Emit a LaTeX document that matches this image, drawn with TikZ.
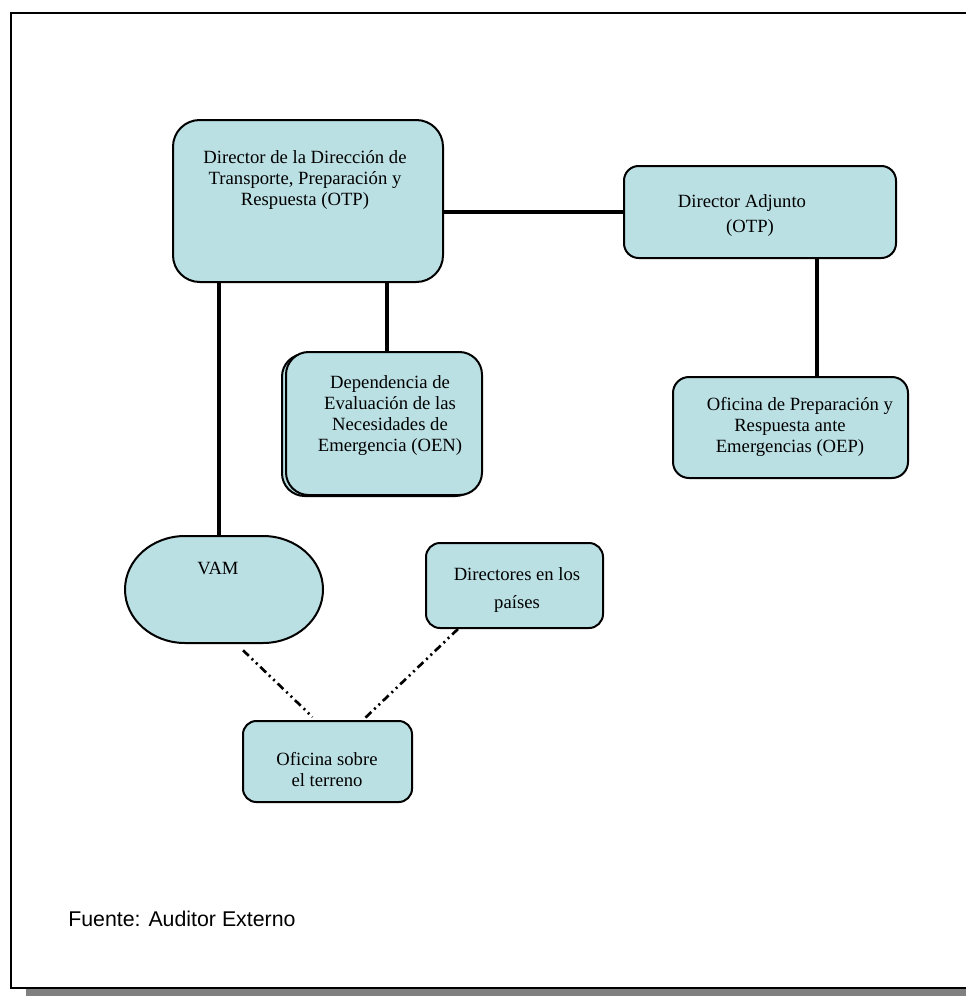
\documentclass[tikz,border=0pt]{standalone}
\usepackage{fontspec}
\setmainfont{Liberation Serif}
\newfontfamily\arialfont{Liberation Sans}
\usetikzlibrary{fit,calc}
\definecolor{boxfill}{RGB}{187,224,228}
\definecolor{shadowgray}{RGB}{128,128,128}
\begin{document}
\begin{tikzpicture}[x=0.75pt,y=-0.75pt,
  box/.style={draw=black, line width=1.5pt, fill=boxfill, inner sep=0pt},
  txt/.style={align=center, inner sep=0pt, font=\fontsize{14pt}{15.75pt}\selectfont},
  conn/.style={line width=3pt, black},
  dashconn/.style={line width=2pt, dash pattern=on 6pt off 3pt on 1.5pt off 3pt on 1.5pt off 3pt}]
\useasboundingbox (0,0) rectangle (966,996);
% frame and shadow
\fill[shadowgray] (26,989) rectangle (972,1000);
\draw[line width=1.5pt] (11,13) rectangle (967,988);

% boxes
\node[box, rounded corners=20pt, fit={(173,120)(443,282)}] (dir) {};
\node[box, rounded corners=11pt, fit={(624,166)(896,258)}] (adj) {};
\draw[box, rounded corners=17pt] (282,354) rectangle (478,496);
\node[box, rounded corners=17pt, fit={(286,352)(482,495)}] (dep) {};
\node[box, rounded corners=12pt, fit={(673,377)(908,478)}] (oep) {};
\node[inner sep=0pt, fit={(125,536)(323,643)}] (vam) {};
\draw[box] (185,536) -- (263,536)
  arc[start angle=-90, end angle=90, x radius=60, y radius=53.5]
  -- (185,643)
  arc[start angle=90, end angle=270, x radius=60, y radius=53.5] -- cycle;
\node[box, rounded corners=10.5pt, fit={(426,543)(603,628)}] (dirs) {};
\node[box, rounded corners=10pt, fit={(243,721)(412,802)}] (ofi) {};

% connectors
\coordinate (vamtop) at ([xshift=-3.75pt]vam.north);
\draw[conn] (vamtop) -- (vamtop |- dir.south);
\coordinate (deptop) at ([xshift=2.6pt]dep.north);
\draw[conn] (deptop) -- (deptop |- dir.south);
\draw[conn] (adj.west) -- (adj.west -| dir.east);
\coordinate (oeptop) at ([xshift=19.9pt]oep.north);
\draw[conn] (oeptop) -- (oeptop |- adj.south);
\draw[dashconn] ([shift={(19,7)}]vam.south) -- ([shift={(-15,-3)}]ofi.north);
\draw[dashconn] ([xshift=-42.4pt]dirs.south) -- ([xshift=26.6pt]ofi.north);

% texts
\node[txt] (dirt) at (305,180) {Director de la Dirección de\\Transporte, Preparación y\\Respuesta (OTP)};
\node[txt] (adjt) at (742,216) {Director Adjunto\\[3pt]\hspace*{12pt}(OTP)};
\node[txt] (dept) at (390,416) {Dependencia de\\Evaluación de las\\Necesidades de\\Emergencia (OEN)};
\node[txt] (oept) at (790,427) {\hspace*{15pt}Oficina de Preparación y\\Respuesta ante\\Emergencias (OEP)};
\node[txt] (vamt) at (218,568) {VAM};
\node[txt] (dirst) at (517,590) {Directores en los\\[5pt]países};
\node[txt] (ofit) at (327,770) {Oficina sobre\\el terreno};
\node[anchor=base west, inner sep=0pt, font=\arialfont\fontsize{16pt}{19pt}\selectfont] (src) at (68,926) {Fuente: Auditor Externo};
\end{tikzpicture}
\end{document}
